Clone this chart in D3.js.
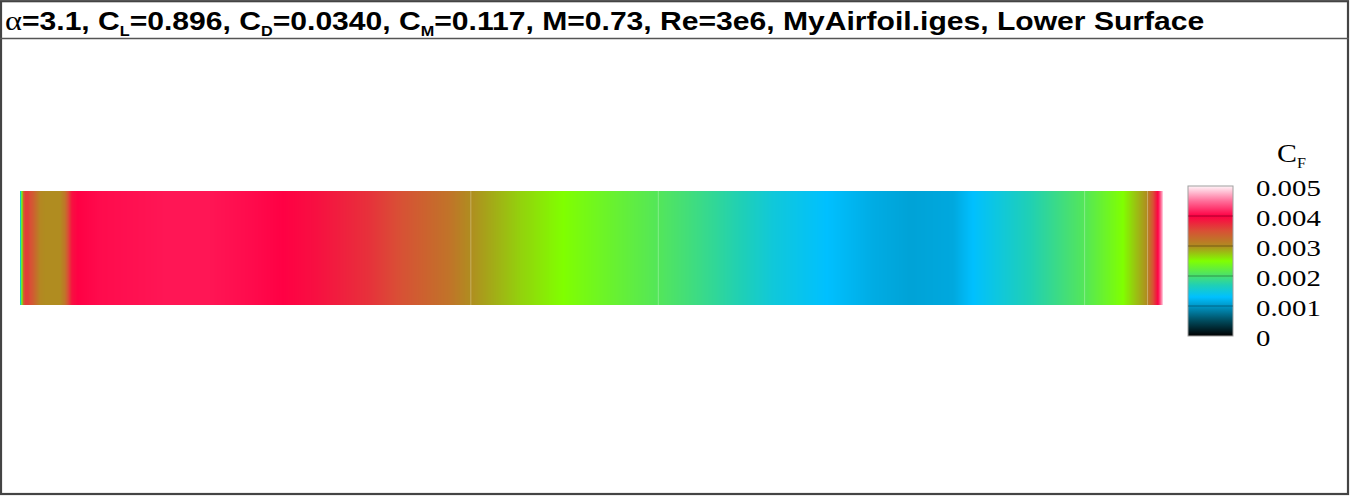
<!DOCTYPE html>
<html>
<head>
<meta charset="utf-8">
<script src="https://cdn.jsdelivr.net/npm/d3@7"></script>
<style>
  html, body { margin: 0; padding: 0; background: #fff; }
  svg { display: block; }
</style>
</head>
<body>
<svg id="chart" width="1350" height="496"></svg>
<script>
// ---------------- DATA ----------------
// Title pieces: [text, kind]  kind: "sym" (serif alpha), "txt", "sub"
const titleParts = [
  ["α", "sym"], ["=3.1, C", "txt"], ["L", "sub"], ["=0.896, C", "txt"], ["D", "sub"],
  ["=0.0340, C", "txt"], ["M", "sub"], ["=0.117, M=0.73, Re=3e6, MyAirfoil.iges, Lower Surface", "txt"]
];

// Chordwise station (x/c) along the lower surface
const stationXc = [0.0000, 0.0009, 0.0017, 0.0031, 0.0044, 0.0070, 0.0114, 0.0175, 0.0219, 0.0350,
  0.0394, 0.0455, 0.0507, 0.0700, 0.1286, 0.1636, 0.2012, 0.2301, 0.2598, 0.3036, 0.3325, 0.3614,
  0.3762, 0.3937, 0.4374, 0.4751, 0.5162, 0.5582, 0.5949, 0.6299, 0.6588, 0.7060, 0.7463, 0.7787,
  0.8163, 0.8338, 0.8837, 0.9309, 0.9650, 0.9860, 0.9913, 0.9956, 0.9983, 1.0000];
// Skin-friction coefficient at each station
const stationCf = [0.0013, 0.0019, 0.0025, 0.0033, 0.0036, 0.0036, 0.0034, 0.00305, 0.0030, 0.0030,
  0.0032, 0.0039, 0.0040, 0.00405, 0.0041, 0.0041, 0.00405, 0.0040, 0.0039, 0.0037, 0.0035, 0.0033,
  0.0032, 0.0030, 0.0027, 0.0025, 0.0023, 0.0021, 0.0019, 0.0017, 0.0015, 0.0013, 0.00115, 0.00108,
  0.00112, 0.0013, 0.0017, 0.0021, 0.0025, 0.0030, 0.0035, 0.0040, 0.0045, 0.0049];
// Mesh panel boundaries (x/c)
const panelEdges = [0.394, 0.558, 0.931, 0.986];

// Colour map
const cmapLevels = [0, 0.0005, 0.001, 0.0013, 0.0017, 0.002, 0.0025, 0.003, 0.0035, 0.004, 0.0045, 0.005];
const cmapColors = ["#000000", "#004a5c", "#0098c8", "#00c0ff", "#20d0b4", "#48e070", "#80ff00",
  "#b08c20", "#d85035", "#ff0044", "#ff6f9a", "#fff4f8"];
const legendTicks = [0, 0.001, 0.002, 0.003, 0.004, 0.005];
const legendTitle = ["C", "F"];

// ---------------- DRAW ----------------
const svg = d3.select("#chart");
const defs = svg.append("defs");

const cmap = d3.scaleLinear().domain(cmapLevels).range(cmapColors).interpolate(d3.interpolateRgb).clamp(true);

// Frame
svg.append("rect").attr("x", 1).attr("y", 1.2).attr("width", 1347).attr("height", 492.8)
  .attr("fill", "none").attr("stroke", "#444").attr("stroke-width", 2.2);
svg.append("line").attr("x1", 0).attr("x2", 1349).attr("y1", 38.5).attr("y2", 38.5)
  .attr("stroke", "#555").attr("stroke-width", 1.5);

// Title
const title = svg.append("text").attr("x", 0).attr("y", 0)
  .attr("font-family", "Liberation Sans, Arial, sans-serif").attr("font-weight", "bold")
  .attr("font-size", 26).attr("fill", "#000");
let prevSub = false;
titleParts.forEach(([t, kind]) => {
  const ts = title.append("tspan").text(t);
  if (kind === "sym") {
    ts.attr("font-family", "Liberation Serif, Times New Roman, serif").attr("font-weight", "normal").attr("font-size", 28);
  }
  if (kind === "sub") {
    ts.attr("font-size", 14).attr("dy", 6);
    prevSub = true;
  } else if (prevSub) {
    ts.attr("dy", -6);
    prevSub = false;
  }
});
const tw = title.node().getBBox().width;
const tScale = 1200 / tw;
title.attr("transform", `translate(5,30) scale(${tScale},1)`);

// Strip
const x = d3.scaleLinear().domain([0, 1]).range([20, 1163]);
const stripTop = 191, stripBot = 305;
const cfAt = d3.scaleLinear().domain(stationXc).range(stationCf);
const grad = defs.append("linearGradient").attr("id", "stripGrad")
  .attr("x1", "0%").attr("x2", "100%").attr("y1", "0%").attr("y2", "0%");
const nSteps = Math.round(x(1) - x(0)) * 2;
d3.range(nSteps + 1).forEach(i => {
  const f = i / nSteps;
  grad.append("stop").attr("offset", f).attr("stop-color", cmap(cfAt(f)));
});
svg.append("rect").attr("x", x(0)).attr("y", stripTop)
  .attr("width", x(1) - x(0)).attr("height", stripBot - stripTop)
  .attr("fill", "url(#stripGrad)");
svg.selectAll("line.panel").data(panelEdges).join("line").attr("class", "panel")
  .attr("x1", d => x(d) + 0.5).attr("x2", d => x(d) + 0.5)
  .attr("y1", stripTop).attr("y2", stripBot)
  .attr("stroke", "#ffffff").attr("stroke-opacity", 0.3).attr("stroke-width", 1);

// Legend
const ly = d3.scaleLinear().domain([0, 0.005]).range([336, 186]);
const lx0 = 1188, lw = 45;
const lgrad = defs.append("linearGradient").attr("id", "legGrad")
  .attr("x1", "0%").attr("x2", "0%").attr("y1", "100%").attr("y2", "0%");
cmapLevels.forEach((lv, i) => {
  lgrad.append("stop").attr("offset", lv / 0.005).attr("stop-color", cmapColors[i]);
});
svg.append("rect").attr("x", lx0).attr("y", ly(0.005)).attr("width", lw)
  .attr("height", ly(0) - ly(0.005)).attr("fill", "url(#legGrad)")
  .attr("stroke", "#a0a0a0").attr("stroke-width", 1);
svg.selectAll("line.lev").data(legendTicks.slice(1, -1)).join("line").attr("class", "lev")
  .attr("x1", lx0).attr("x2", lx0 + lw)
  .attr("y1", d => ly(d)).attr("y2", d => ly(d))
  .attr("stroke", "#000").attr("stroke-opacity", 0.35).attr("stroke-width", 1);

const fmt = d => d === 0 ? "0" : d3.format(".3f")(d);
svg.selectAll("text.tick").data(legendTicks).join("text").attr("class", "tick")
  .attr("transform", d => `translate(1256,${ly(d) + 10}) scale(1.2,1)`)
  .attr("font-family", "Liberation Serif, Times New Roman, serif")
  .attr("font-size", 24).attr("fill", "#000").text(fmt);

const lt = svg.append("text")
  .attr("transform", "translate(1277,162) scale(1.15,1)")
  .attr("font-family", "Liberation Serif, Times New Roman, serif")
  .attr("font-size", 26).attr("fill", "#000");
lt.append("tspan").text(legendTitle[0]);
lt.append("tspan").attr("font-size", 14).attr("dy", 6).text(legendTitle[1]);
</script>
</body>
</html>
